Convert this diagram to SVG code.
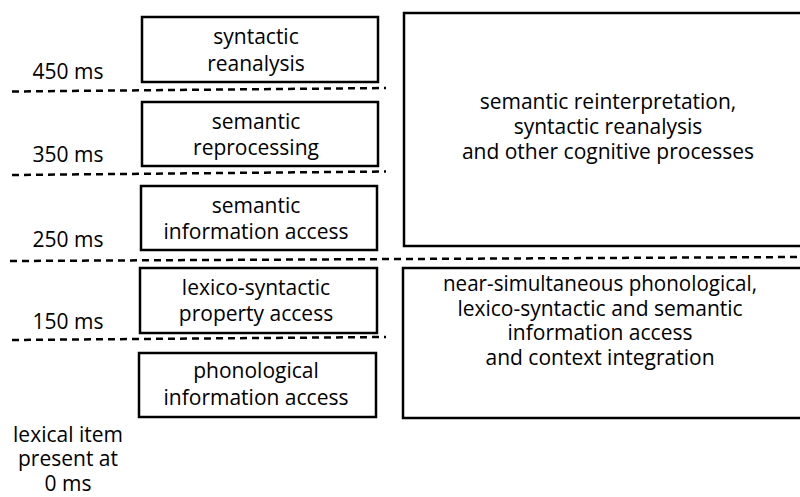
<svg xmlns="http://www.w3.org/2000/svg" width="800" height="497" viewBox="0 0 800 497">
  <style>
    .box { fill: #fff; stroke: #000; stroke-width: 2.5; }
    .sep { fill: none; stroke: #000; stroke-width: 2.5; stroke-dasharray: 7 5; }
    text { font-family: "Open Sans", "Noto Sans", "Liberation Sans", sans-serif; font-size: 21px; fill: #000; text-anchor: middle; }
  </style>
  <rect width="800" height="497" fill="#fff"/>

  <!-- time boundaries -->
  <g id="connectors">
    <line class="sep" x1="12" y1="91.5" x2="386" y2="88"/>
    <line class="sep" x1="12" y1="175" x2="386" y2="171.5"/>
    <line class="sep" x1="10" y1="261" x2="800" y2="257"/>
    <line class="sep" x1="12" y1="340" x2="386" y2="337"/>
  </g>

  <!-- time labels -->
  <g id="time-labels">
    <text x="68" y="79">450 ms</text>
    <text x="68" y="162">350 ms</text>
    <text x="68" y="247">250 ms</text>
    <text x="68" y="329">150 ms</text>
    <text x="68" y="441.5">lexical item</text>
    <text x="68" y="466">present at</text>
    <text x="68" y="490.5">0 ms</text>
  </g>

  <g id="syntactic-reanalysis">
    <rect class="box" x="142" y="17" width="236" height="65"/>
    <text x="256" y="44">syntactic</text>
    <text x="256" y="70.5">reanalysis</text>
  </g>

  <g id="semantic-reprocessing">
    <rect class="box" x="142" y="102" width="236" height="64"/>
    <text x="256" y="128.5">semantic</text>
    <text x="256" y="155">reprocessing</text>
  </g>

  <g id="semantic-information-access">
    <rect class="box" x="141" y="186" width="236" height="64"/>
    <text x="256" y="212.5">semantic</text>
    <text x="256" y="239">information access</text>
  </g>

  <g id="lexico-syntactic-property-access">
    <rect class="box" x="140" y="268" width="237" height="65"/>
    <text x="256" y="294.5">lexico-syntactic</text>
    <text x="256" y="321">property access</text>
  </g>

  <g id="phonological-information-access">
    <rect class="box" x="139" y="353" width="237" height="64"/>
    <text x="256" y="378">phonological</text>
    <text x="256" y="404.5">information access</text>
  </g>

  <g id="late-processes">
    <rect class="box" x="404" y="13" width="410" height="233"/>
    <text x="608" y="109">semantic reinterpretation,</text>
    <text x="608" y="134">syntactic reanalysis</text>
    <text x="608" y="159">and other cognitive processes</text>
  </g>

  <g id="early-processes">
    <rect class="box" x="403" y="268" width="410" height="150"/>
    <text x="600" y="291" textLength="314" lengthAdjust="spacingAndGlyphs">near-simultaneous phonological,</text>
    <text x="600" y="315.5">lexico-syntactic and semantic</text>
    <text x="600" y="340">information access</text>
    <text x="600" y="364.5">and context integration</text>
  </g>
</svg>
